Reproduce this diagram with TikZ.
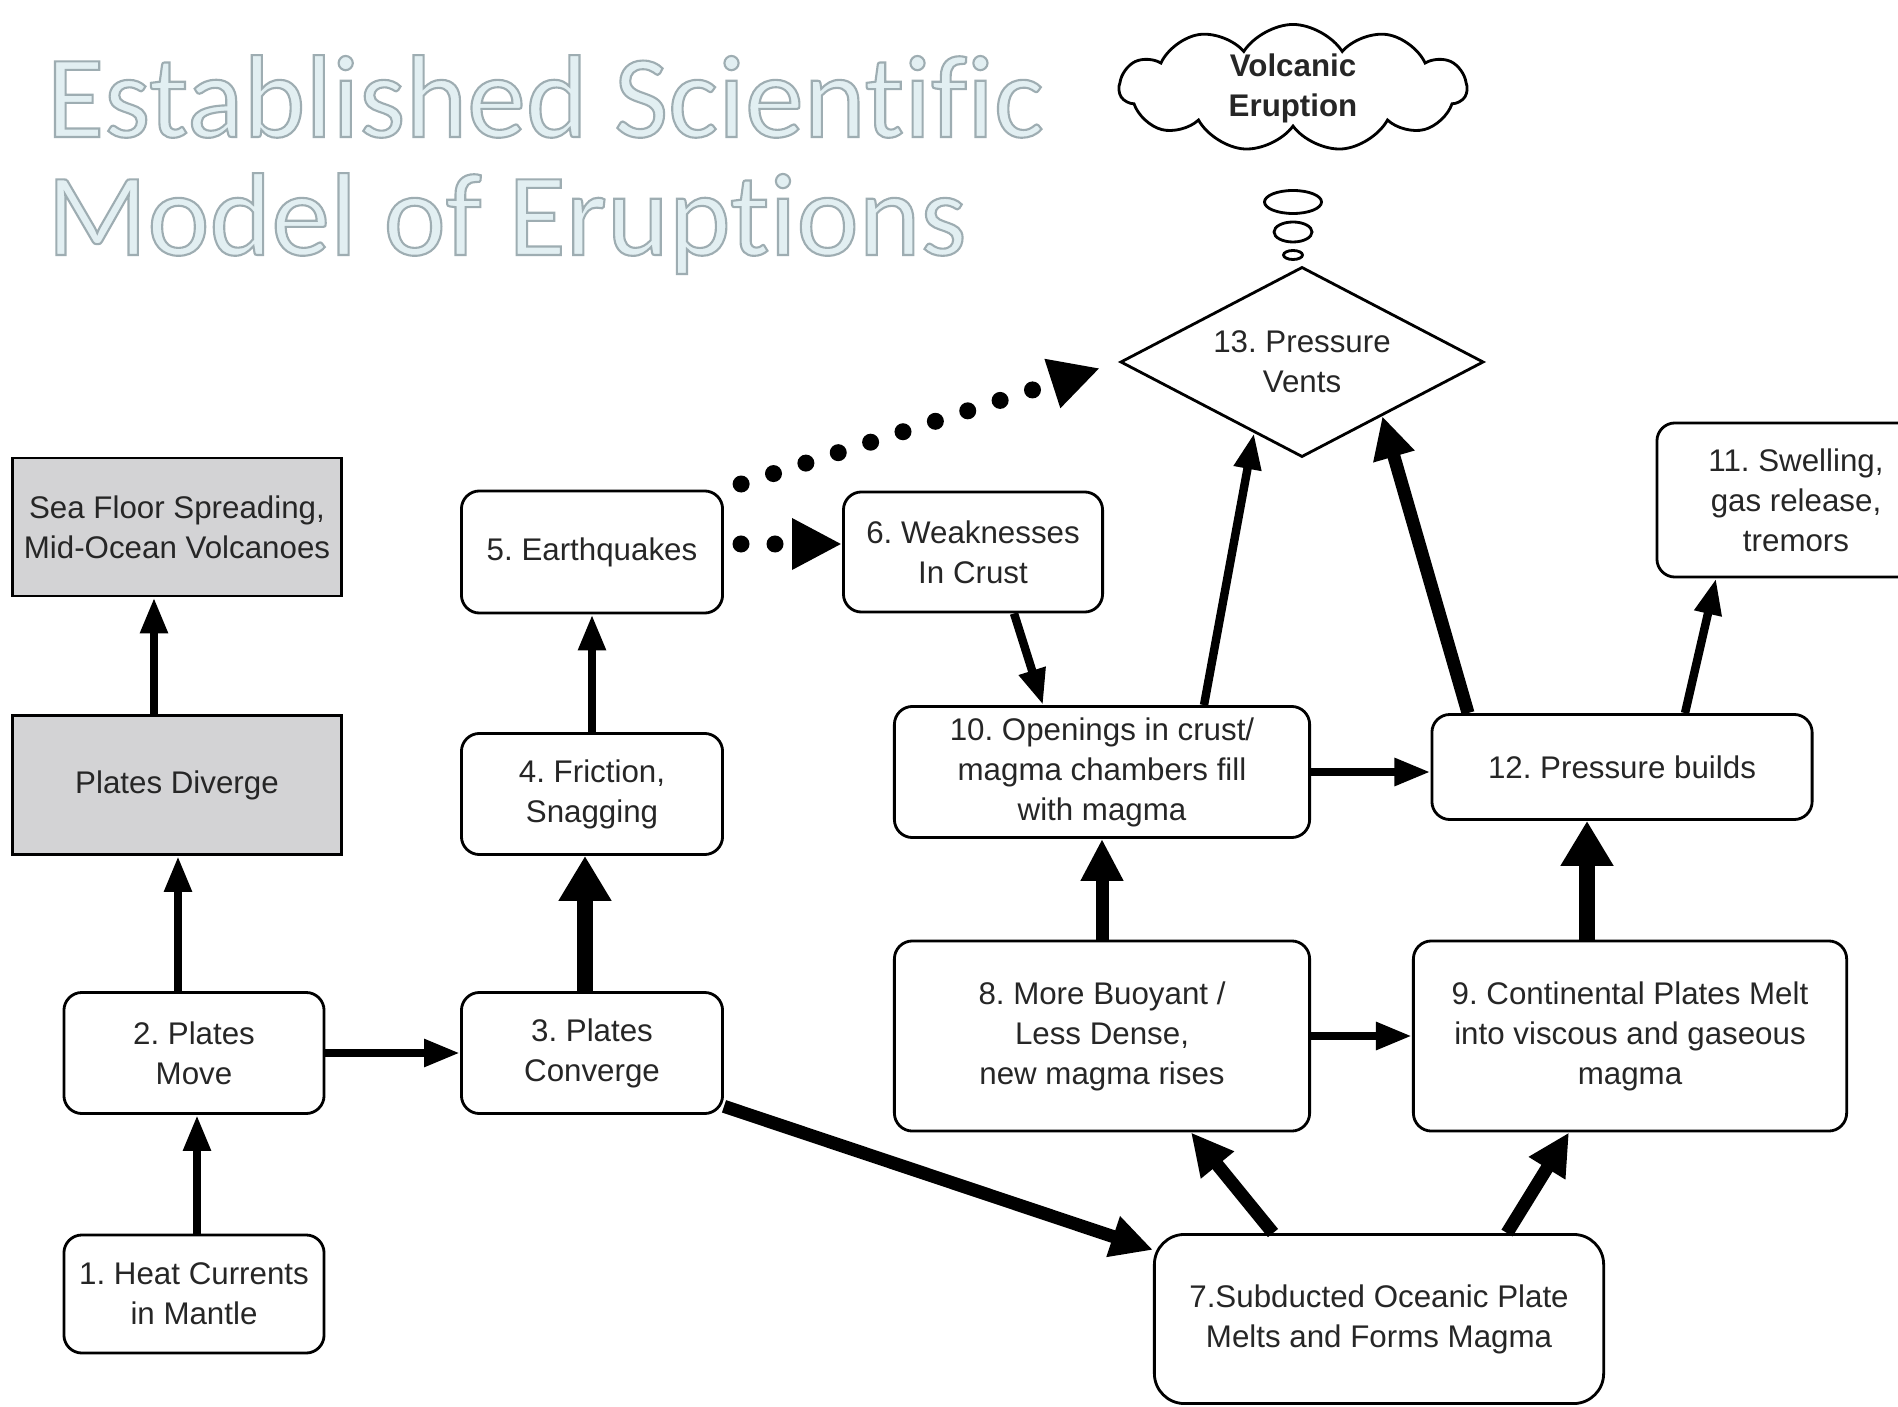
\documentclass[tikz,border=0pt]{standalone}
\usepackage{fontspec}
\setmainfont{Liberation Sans}
\newfontfamily\titlefont[Ligatures=NoCommon]{Carlito}
\usepackage{tikz}
\usepackage{xcolor}
\usetikzlibrary{arrows.meta,shapes.geometric,shapes.symbols,calc}

\definecolor{titleblue}{RGB}{226,239,242}
\definecolor{boxgrey}{RGB}{211,211,213}
\newcommand{\edgetext}[1]{\special{pdf:literal direct 2 Tr 0.6 w 0.62 0.68 0.70 RG}#1\special{pdf:literal direct 0 Tr}}
\frenchspacing

\begin{document}
\begin{tikzpicture}[x=0.01cm, y=-0.01cm,
        box/.style={draw, rounded corners=0.18cm, line width=0.8pt, align=center, inner sep=0pt,
            text=black!85, font=\fontsize{8.9pt}{11.4pt}\selectfont},
        grey box/.style={box, sharp corners, fill=boxgrey},
        bubble/.style={draw, ellipse, line width=0.8pt, inner sep=0pt},
        heading/.style={anchor=base west, inner sep=0pt, text=titleblue, font=\titlefont\fontsize{33.5pt}{33pt}\selectfont},
        arr/.style={-{Triangle[length=0.36cm,width=0.26cm]}, line width=2.4pt},
        bigarr/.style={-{Triangle[length=0.42cm,width=0.4cm]}, line width=3.7pt},
        hugearr/.style={-{Triangle[length=0.45cm,width=0.5cm]}, line width=4.8pt},
        dotarr/.style={-{Triangle[length=0.5cm,width=0.48cm]}, line width=0.17cm, line cap=round,
            dash pattern=on 0pt off 0.34cm}]
    \path[fill=white] (0,0) rectangle (1898,1407);
    \useasboundingbox (0,0) rectangle (1898,1407);

    \node[heading] (title1) at (46,137) {\edgetext{Established Scientific}};
    \node[heading] (title2) at (46,255) {\edgetext{Model of Eruptions}};

    \node[draw, cloud, cloud puffs=11, cloud puff arc=115, cloud ignores aspect, line width=0.8pt,
        minimum width=3.47cm, minimum height=1.27cm, align=center, inner sep=0pt, text=black!85,
        font=\bfseries\fontsize{8.9pt}{11.4pt}\selectfont] (cloud) at (1293,88) {Volcanic\\Eruption};
    \node[bubble, minimum width=0.57cm, minimum height=0.23cm] (bub1) at (1293,202) {};
    \node[bubble, minimum width=0.38cm, minimum height=0.2cm] (bub2) at (1293,232) {};
    \node[bubble, minimum width=0.19cm, minimum height=0.09cm] (bub3) at (1293,255) {};
    \node[draw, diamond, aspect=1.91, line width=0.8pt, minimum width=3.63cm, minimum height=1.9cm, inner sep=0pt,
        align=center, text=black!85, font=\fontsize{8.9pt}{11.4pt}\selectfont] (vents) at (1302,362) {13. Pressure\\Vents};

    \node[grey box, minimum width=3.29cm, minimum height=1.38cm] (sea) at (177,527) {Sea Floor Spreading,\\Mid-Ocean Volcanoes};
    \node[grey box, minimum width=3.29cm, minimum height=1.39cm] (diverge) at (177,785) {Plates Diverge};
    \node[box, minimum width=2.6cm, minimum height=1.21cm] (move) at (194,1053) {2. Plates\\Move};
    \node[box, minimum width=2.6cm, minimum height=1.18cm] (heat) at (194,1294) {1. Heat Currents\\in Mantle};
    \node[box, minimum width=2.61cm, minimum height=1.21cm] (converge) at (592,1053) {3. Plates\\Converge};
    \node[box, minimum width=2.61cm, minimum height=1.21cm] (friction) at (592,794) {4. Friction,\\Snagging};
    \node[box, minimum width=2.61cm, minimum height=1.22cm] (quakes) at (592,552) {5. Earthquakes};
    \node[box, minimum width=2.59cm, minimum height=1.2cm] (weak) at (973,552) {6. Weaknesses\\In Crust};
    \node[box, minimum width=4.15cm, minimum height=1.31cm] (openings) at (1102,772) {10. Openings in crust/\\magma chambers fill\\with magma};
    \node[box, minimum width=3.8cm, minimum height=1.05cm] (builds) at (1622,767) {12. Pressure builds};
    \node[box, minimum width=2.78cm, minimum height=1.54cm] (swell) at (1796,500) {11. Swelling,\\gas release,\\tremors};
    \node[box, minimum width=4.15cm, minimum height=1.9cm] (buoyant) at (1102,1036) {8. More Buoyant /\\Less Dense,\\new magma rises};
    \node[box, minimum width=4.33cm, minimum height=1.9cm] (melt) at (1630,1036) {9. Continental Plates Melt\\into viscous and gaseous\\magma};
    \node[box, rounded corners=0.3cm, minimum width=4.49cm, minimum height=1.69cm] (subduct) at (1379,1319) {7.Subducted Oceanic Plate\\Melts and Forms Magma};

    \draw[arr] ($(heat.north)+(3,0)$) -- ($(move.south)+(3,0)$);
    \draw[arr] ($(move.north)+(-16,0)$) -- ($(diverge.south)+(1,0)$);
    \draw[arr] ($(diverge.north)+(-23,0)$) -- ($(sea.south)+(-23,0)$);
    \draw[arr] (move.east) -- (converge.west);
    \draw[hugearr] ($(converge.north)+(-7,0)$) -- ($(friction.south)+(-7,0)$);
    \draw[arr] (friction.north) -- (quakes.south);
    \draw[dotarr, shorten <=0.17cm] ($(quakes.east)+(0,-8)$) -- ($(weak.west)+(0,-8)$);
    \draw[dotarr, shorten <=0.18cm, shorten >=0.2cm] (quakes.north east) -- (vents.west);
    \draw[arr] ($(weak.south)+(41,0)$) -- ($(openings.north)+(-59,0)$);
    \draw[arr] ($(openings.north)+(102,0)$) -- (vents.236);
    \draw[arr] (openings.east) -- (openings.east -| builds.west);
    \draw[bigarr] ($(builds.north)+(-154,0)$) -- (vents.-34);
    \draw[arr] ($(builds.north)+(63,0)$) -- ($(swell.south)+(-80,0)$);
    \draw[bigarr] (buoyant.north) -- (openings.south);
    \draw[arr] (buoyant.east) -- (melt.west);
    \draw[hugearr] ($(melt.north)+(-43,0)$) -- ($(builds.south)+(-35,0)$);
    \draw[bigarr] (converge.-22) -- (subduct.163);
    \draw[bigarr] ($(subduct.north)+(-106,0)$) -- ($(buoyant.south)+(89,0)$);
    \draw[bigarr] ($(subduct.north)+(128,0)$) -- ($(melt.south)+(-61,0)$);
\end{tikzpicture}
\end{document}
